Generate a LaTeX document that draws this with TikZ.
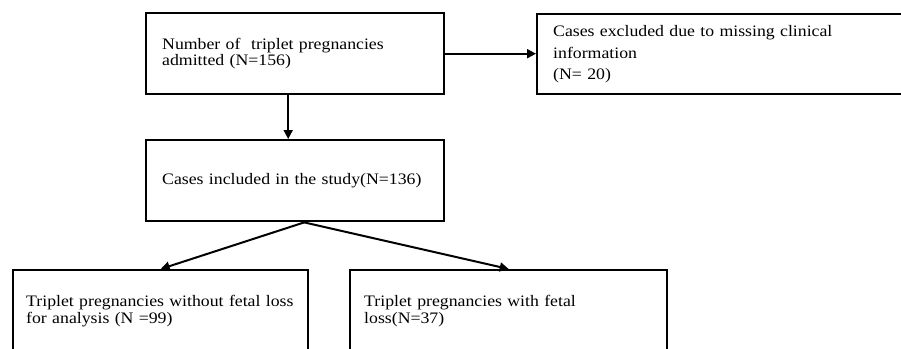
\documentclass[tikz,border=0pt]{standalone}
\usepackage{fontspec}
\setmainfont{Liberation Serif}[FakeStretch=1.11]
\usetikzlibrary{arrows.meta}

\begin{document}
\begin{tikzpicture}[x=1pt,y=-1pt]
        \tikzstyle{every node}=[font=\fontsize{16}{16.5}\selectfont]
        \tikzstyle{box}=[draw, line width=2.4pt, anchor=north west, align=left, inner xsep=16pt, inner ysep=0pt]
        \tikzstyle{arr}=[line width=2pt, -{Triangle[length=9pt,width=9pt]}]
        \useasboundingbox (0,0) rectangle (901,348);
        \clip (0,0) rectangle (901,348);
        \node[box, text width=266pt, minimum height=81pt] (adm) at (145,12) {Number of~ triplet pregnancies\\admitted (N=156)};
        \node[box, text width=368pt, minimum height=80pt] (exc) at (536,13) {Cases excluded due to missing clinical\\[5pt]information\\[5pt](N= 20)};
        \node[box, text width=266pt, minimum height=81pt] (inc) at (145,139) {Cases included in the study(N=136)};
        \node[box, text width=269pt, inner xsep=13pt, minimum height=82pt] (nol) at (12,269) {Triplet pregnancies without fetal loss\\for analysis (N =99)};
        \node[box, text width=289pt, inner xsep=14pt, minimum height=82pt] (wfl) at (349,269) {Triplet pregnancies with fetal\\loss(N=37)};
        \coordinate (split) at ([xshift=9pt]inc.south);
        \draw[arr] (adm.east) -- (adm.east -| exc.west);
        \draw[arr] ([xshift=-7pt]adm.south) -- ([xshift=-7pt]inc.north);
        \draw[arr] (split) -- (nol.north);
        \draw[arr] (split) -- (wfl.north);
\end{tikzpicture}
\end{document}
